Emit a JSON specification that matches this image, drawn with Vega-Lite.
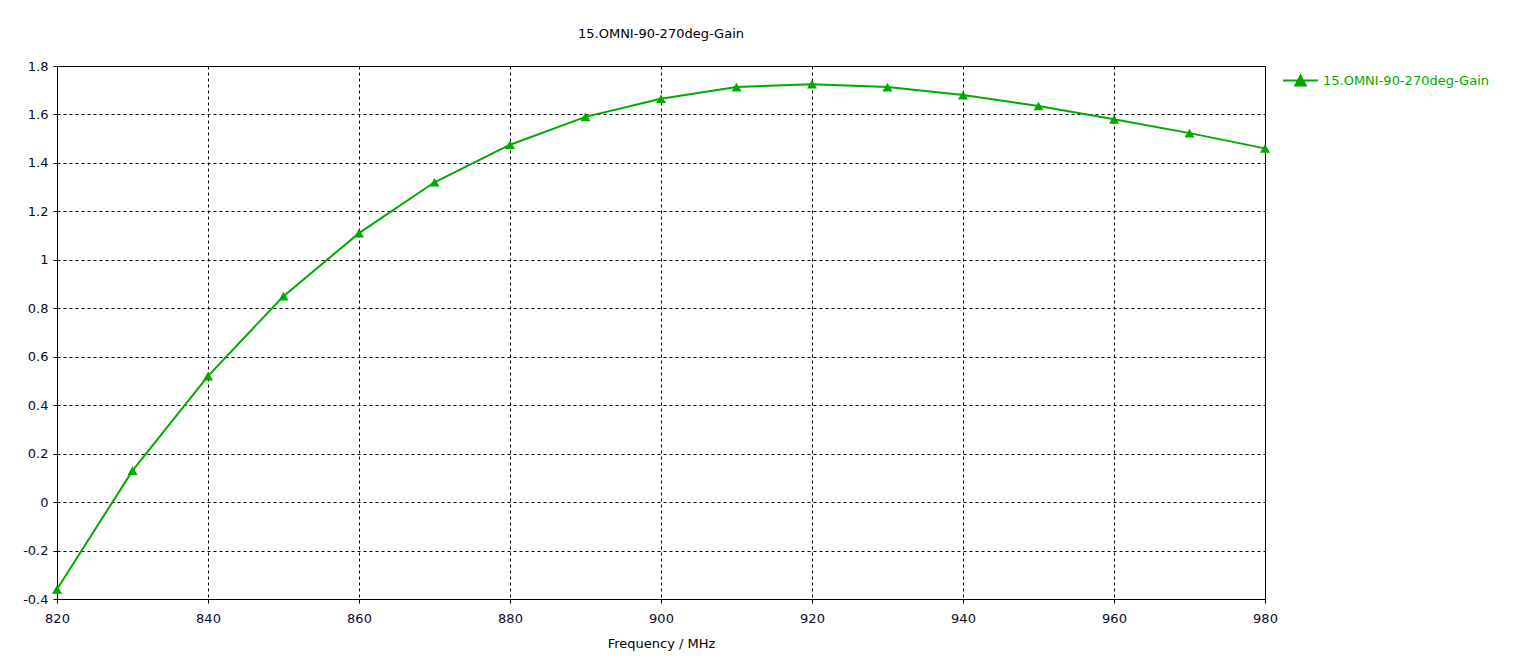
{
  "$schema": "https://vega.github.io/schema/vega-lite/v6.json",
  "autosize": "none",
  "width": 1208,
  "height": 533,
  "padding": {"left": 57, "top": 66, "right": 257, "bottom": 63},
  "background": "white",
  "title": {"text": "15.OMNI-90-270deg-Gain", "anchor": "middle", "font": "DejaVu Sans", "fontSize": 13, "fontWeight": "normal", "color": "black", "offset": 19},
  "config": {
    "view": {"stroke": "black", "strokeWidth": 1},
    "axis": {"labelFont": "DejaVu Sans", "labelFontSize": 13, "labelColor": "#0a0a2a", "titleFont": "DejaVu Sans", "titleFontSize": 13, "titleFontWeight": "normal", "titleColor": "black", "domainColor": "black", "tickColor": "black", "gridColor": "black", "gridDash": [3, 3], "gridOpacity": 1, "gridWidth": 1, "tickSize": 4, "labelFlush": false}
  },
  "data": {"values": [
    {"f": 820, "g": -0.36, "s": "15.OMNI-90-270deg-Gain"},
    {"f": 830, "g": 0.13, "s": "15.OMNI-90-270deg-Gain"},
    {"f": 840, "g": 0.52, "s": "15.OMNI-90-270deg-Gain"},
    {"f": 850, "g": 0.85, "s": "15.OMNI-90-270deg-Gain"},
    {"f": 860, "g": 1.11, "s": "15.OMNI-90-270deg-Gain"},
    {"f": 870, "g": 1.32, "s": "15.OMNI-90-270deg-Gain"},
    {"f": 880, "g": 1.475, "s": "15.OMNI-90-270deg-Gain"},
    {"f": 890, "g": 1.59, "s": "15.OMNI-90-270deg-Gain"},
    {"f": 900, "g": 1.665, "s": "15.OMNI-90-270deg-Gain"},
    {"f": 910, "g": 1.713, "s": "15.OMNI-90-270deg-Gain"},
    {"f": 920, "g": 1.725, "s": "15.OMNI-90-270deg-Gain"},
    {"f": 930, "g": 1.713, "s": "15.OMNI-90-270deg-Gain"},
    {"f": 940, "g": 1.68, "s": "15.OMNI-90-270deg-Gain"},
    {"f": 950, "g": 1.635, "s": "15.OMNI-90-270deg-Gain"},
    {"f": 960, "g": 1.58, "s": "15.OMNI-90-270deg-Gain"},
    {"f": 970, "g": 1.523, "s": "15.OMNI-90-270deg-Gain"},
    {"f": 980, "g": 1.46, "s": "15.OMNI-90-270deg-Gain"}
  ]},
  "encoding": {
    "x": {"field": "f", "type": "quantitative", "scale": {"domain": [820, 980], "nice": false, "zero": false}, "axis": {"values": [820, 840, 860, 880, 900, 920, 940, 960, 980], "title": "Frequency / MHz", "titlePadding": 12, "labelPadding": 9}},
    "y": {"field": "g", "type": "quantitative", "scale": {"domain": [-0.4, 1.8], "nice": false, "zero": false}, "axis": {"values": [-0.4, -0.2, 0, 0.2, 0.4, 0.6, 0.8, 1, 1.2, 1.4, 1.6, 1.8], "labelExpr": "'' + datum.value", "title": null, "labelPadding": 5}},
    "color": {"field": "s", "type": "nominal", "scale": {"range": ["#00aa00"]}, "legend": {"title": null, "orient": "none", "legendX": 1225, "legendY": -4, "symbolType": "M-1,0H1M-0.3,0.28L0,-0.28L0.3,0.28Z", "symbolSize": 1225, "symbolStrokeWidth": 2, "symbolFillColor": "#00aa00", "labelFont": "DejaVu Sans", "labelFontSize": 13, "labelColor": "#00aa00", "labelOffset": 4, "labelLimit": 400}}
  },
  "layer": [
    {"mark": {"type": "line", "strokeWidth": 2}},
    {"mark": {"type": "point", "shape": "triangle-up", "filled": true, "size": 100, "opacity": 1}}
  ]
}
